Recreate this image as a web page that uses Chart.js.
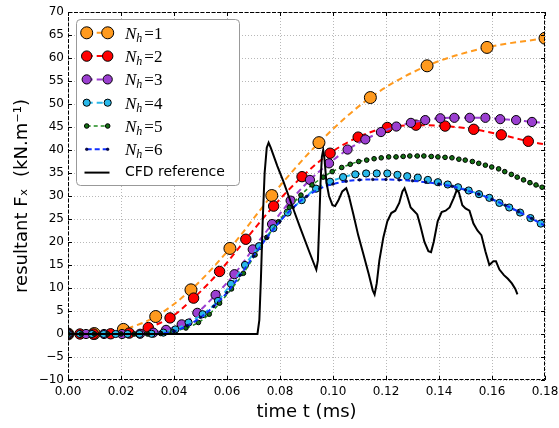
<!DOCTYPE html>
<html><head><meta charset="utf-8">
<script src="https://cdn.jsdelivr.net/npm/chart.js@4.4.1/dist/chart.umd.min.js"></script>
<style>html,body{margin:0;padding:0;background:#fff;}#wrap{width:559px;height:428px;position:relative;}</style>
</head><body><div id="wrap"><canvas id="c" width="559" height="428"></canvas></div>
<script>
// ---- tick labels ----
const xTicks = [0, 0.02, 0.04, 0.06, 0.08, 0.10, 0.12, 0.14, 0.16, 0.18];
const yTicks = [-10, -5, 0, 5, 10, 15, 20, 25, 30, 35, 40, 45, 50, 55, 60, 65, 70];
const xTitle = 'time t (ms)';
const yTitle = 'resultant Fₓ  (kN.m⁻¹)';
const seriesNames = ['N_h=1', 'N_h=2', 'N_h=3', 'N_h=4', 'N_h=5', 'N_h=6', 'CFD reference'];

// ---- N_h = 1 ----
const t1 = [0, 0.0099, 0.0209, 0.0331, 0.0464, 0.0611, 0.0769, 0.0947, 0.1141, 0.1355, 0.1581, 0.18];
const f1 = [0, 0.1, 1.0, 3.8, 9.6, 18.6, 30.1, 41.6, 51.4, 58.3, 62.3, 64.3];
// ---- N_h = 2 ----
const t2 = [0, 0.0045, 0.0096, 0.0161, 0.0231, 0.0303, 0.0385, 0.0474, 0.0572, 0.0671, 0.0776, 0.0883, 0.0989, 0.1095, 0.1205, 0.1313, 0.1423, 0.1531, 0.1635, 0.1737, 0.18];
const f2 = [0, 0, 0, 0.05, 0.2, 1.4, 3.5, 7.8, 13.6, 20.6, 27.8, 34.2, 39.3, 42.8, 44.9, 45.4, 45.2, 44.5, 43.3, 41.9, 41.2];
// ---- N_h = 3 ----
const t3 = [0, 0.0068, 0.0136, 0.0204, 0.0272, 0.0322, 0.0370, 0.0429, 0.0488, 0.0557, 0.0628, 0.0697, 0.0770, 0.0840, 0.0913, 0.0985, 0.1055, 0.1122, 0.1181, 0.1239, 0.1294, 0.1348, 0.1405, 0.1458, 0.1516, 0.1575, 0.1631, 0.1691, 0.1751, 0.18];
const f3 = [0, 0, 0, 0, 0.05, 0.3, 0.9, 2.1, 4.6, 8.5, 13.0, 18.4, 23.9, 29.0, 33.5, 37.1, 40.1, 42.3, 43.9, 45.1, 45.9, 46.5, 46.9, 47.0, 47.0, 47.0, 46.7, 46.5, 46.1, 45.9];
// ---- N_h = 4 ----
const t4 = [0, 0.0045, 0.009, 0.0135, 0.018, 0.0225, 0.027, 0.0315, 0.036, 0.0405, 0.0455, 0.0508, 0.0566, 0.0615, 0.0668, 0.0721, 0.0775, 0.0829, 0.0882, 0.0936, 0.0989, 0.1038, 0.1084, 0.1125, 0.1165, 0.1205, 0.1243, 0.128, 0.132, 0.1358, 0.1396, 0.1433, 0.1472, 0.1512, 0.1551, 0.159, 0.1628, 0.1665, 0.1706, 0.1745, 0.1784, 0.18];
const f4 = [0, 0, 0, 0, 0, 0, 0, 0.05, 0.3, 1.0, 2.5, 4.3, 7.2, 10.9, 15.0, 19.1, 23.0, 26.4, 29.1, 31.6, 33.1, 34.1, 34.7, 34.9, 34.9, 34.9, 34.6, 34.3, 34.0, 33.5, 33.0, 32.5, 31.9, 31.2, 30.4, 29.6, 28.5, 27.5, 26.4, 25.2, 24.0, 23.5];
// ---- N_h = 5 ----
const t5 = [0, 0.005, 0.010, 0.015, 0.020, 0.025, 0.030, 0.035, 0.0395, 0.0445, 0.0492, 0.0533, 0.0572, 0.0617, 0.0662, 0.0706, 0.0750, 0.0794, 0.0835, 0.0879, 0.0921, 0.0963, 0.0997, 0.1033, 0.1065, 0.1097, 0.1127, 0.1155, 0.1182, 0.1210, 0.1238, 0.1265, 0.1290, 0.1318, 0.1343, 0.1371, 0.1396, 0.1423, 0.1449, 0.1475, 0.1499, 0.1526, 0.1550, 0.1575, 0.1599, 0.1625, 0.1648, 0.1673, 0.1695, 0.1719, 0.1743, 0.1766, 0.1789, 0.18];
const f5 = [0, 0, 0, 0, 0, 0, 0, 0.1, 0.5, 1.3, 2.5, 4.3, 6.7, 9.8, 13.2, 17.2, 21.0, 24.4, 27.5, 30.2, 32.4, 34.1, 35.3, 36.2, 36.9, 37.5, 37.8, 38.1, 38.3, 38.5, 38.5, 38.6, 38.7, 38.7, 38.7, 38.6, 38.5, 38.4, 38.3, 38.0, 37.8, 37.5, 37.1, 36.7, 36.3, 35.9, 35.3, 34.7, 34.1, 33.5, 32.9, 32.4, 31.9, 31.7];
// ---- N_h = 6 ----
const t6 = [0, 0.005, 0.010, 0.015, 0.020, 0.025, 0.030, 0.035, 0.040, 0.045, 0.050, 0.055, 0.060, 0.065, 0.070, 0.075, 0.080, 0.085, 0.090, 0.095, 0.100, 0.105, 0.110, 0.115, 0.120, 0.125, 0.130, 0.135, 0.140, 0.145, 0.150, 0.155, 0.160, 0.165, 0.170, 0.175, 0.180];
const f6 = [0, 0, 0, 0, 0, 0, 0, 0.1, 0.6, 1.8, 3.6, 6.0, 9.0, 12.8, 16.9, 20.9, 24.5, 27.5, 29.9, 31.6, 32.6, 33.2, 33.5, 33.6, 33.6, 33.5, 33.3, 33.0, 32.6, 32.1, 31.3, 30.4, 29.3, 28.0, 26.6, 25.1, 23.5];
// ---- CFD reference ----
const tCFD = [0, 0.0715, 0.0722, 0.0728, 0.0735, 0.0742, 0.0750, 0.0757, 0.0765, 0.0790, 0.0812, 0.0840, 0.0875, 0.0913, 0.0930, 0.0937, 0.0943, 0.0948, 0.0953, 0.0958, 0.0963, 0.0968, 0.0975, 0.0985, 0.0998, 0.1008, 0.1020, 0.1035, 0.1050, 0.1060, 0.1077, 0.1095, 0.1114, 0.1135, 0.1150, 0.1157, 0.1165, 0.1175, 0.1190, 0.1205, 0.1220, 0.1235, 0.1250, 0.1262, 0.1270, 0.1280, 0.1293, 0.1305, 0.1318, 0.1330, 0.1345, 0.1360, 0.1370, 0.1380, 0.1395, 0.1410, 0.1425, 0.1440, 0.1455, 0.1467, 0.1475, 0.1488, 0.1500, 0.1515, 0.1530, 0.1545, 0.1560, 0.1575, 0.1590, 0.1605, 0.1615, 0.1628, 0.1645, 0.1660, 0.1675, 0.1688, 0.1696];
const fCFD = [0, 0, 3, 12, 25, 35, 40.5, 41.6, 40.5, 36.5, 33.3, 28.8, 23.3, 17.5, 15.0, 14.0, 16, 24, 33, 38.5, 40, 38, 33, 30, 28, 27.8, 29, 31, 31.7, 30, 26, 21.5, 17.5, 13, 9.5, 8.6, 11, 16, 21, 24.5, 26.3, 26.8, 28.5, 31, 31.7, 30, 27.5, 26.8, 26, 23.5, 20, 18, 17.8, 20, 24.5, 26.5, 26.8, 27.5, 29.5, 31.3, 30.8, 28, 27.3, 26.8, 24, 22.5, 21.5, 18, 15, 15.8, 15.8, 14, 12.8, 12, 11, 9.8, 8.6];

const pts = (t, f) => t.map((x, i) => ({x: x, y: f[i]}));

function series(label, t, f, color, mColor, r, dash, bw, order, endMarker) {
  const n = t.length;
  return {
    label: label, data: pts(t, f), borderColor: color, borderWidth: bw, borderDash: dash,
    backgroundColor: mColor,
    pointRadius: (c) => (!endMarker && c.dataIndex === n - 1) ? 0 : r,
    pointBackgroundColor: mColor, pointBorderColor: '#000', pointBorderWidth: r > 2 ? 1 : 0.6,
    cubicInterpolationMode: 'monotone', fill: false, clip: 0, order: order
  };
}

const styles = [
  {color: '#ff9a1e', m: '#ff9a1e', r: 6, dash: [6, 4], bw: 2},
  {color: '#ff0000', m: '#ff0000', r: 5.2, dash: [6, 4], bw: 2},
  {color: '#9b3fd0', m: '#9b3fd0', r: 4.6, dash: [6, 4], bw: 2},
  {color: '#28b8ea', m: '#28b8ea', r: 3.6, dash: [6, 4], bw: 2},
  {color: '#1f8a1f', m: '#137013', r: 2.3, dash: [4, 3], bw: 1.5},
  {color: '#1030ff', m: '#000070', r: 1.3, dash: [5, 3], bw: 2}
];

const datasets = [
  series(seriesNames[0], t1, f1, styles[0].color, styles[0].m, styles[0].r, styles[0].dash, styles[0].bw, 6, true),
  series(seriesNames[1], t2, f2, styles[1].color, styles[1].m, styles[1].r, styles[1].dash, styles[1].bw, 5, false),
  series(seriesNames[2], t3, f3, styles[2].color, styles[2].m, styles[2].r, styles[2].dash, styles[2].bw, 4, false),
  series(seriesNames[3], t4, f4, styles[3].color, styles[3].m, styles[3].r, styles[3].dash, styles[3].bw, 3, false),
  series(seriesNames[4], t5, f5, styles[4].color, styles[4].m, styles[4].r, styles[4].dash, styles[4].bw, 2, false),
  series(seriesNames[5], t6, f6, styles[5].color, styles[5].m, styles[5].r, styles[5].dash, styles[5].bw, 1, true),
  {label: seriesNames[6], data: pts(tCFD, fCFD), borderColor: '#000', borderWidth: 2, pointRadius: 0, tension: 0, fill: false, clip: 0, order: 0}
];

function seg(ctx, x1, y1, x2, y2) { ctx.beginPath(); ctx.moveTo(x1, y1); ctx.lineTo(x2, y2); ctx.stroke(); }

const mplDecor = {
  id: 'mplDecor',
  afterDatasetsDraw(chart) {
    const ctx = chart.ctx, a = chart.chartArea, xs = chart.scales.x, ys = chart.scales.y;
    ctx.save();
    ctx.strokeStyle = '#000'; ctx.lineWidth = 1; ctx.setLineDash([]);
    xTicks.forEach(v => { const p = Math.round(xs.getPixelForValue(v)) + 0.5; seg(ctx, p, a.bottom, p, a.bottom - 4); seg(ctx, p, a.top, p, a.top + 4); });
    yTicks.forEach(v => { const p = Math.round(ys.getPixelForValue(v)) + 0.5; seg(ctx, a.left, p, a.left + 4, p); seg(ctx, a.right, p, a.right - 4, p); });
    ctx.setLineDash([4, 1.5]);
    ctx.strokeRect(a.left + 0.5, a.top + 0.5, a.right - a.left - 1, a.bottom - a.top - 1);
    ctx.setLineDash([]);

    // legend
    const bx = a.left + 8.5, by = a.top + 7.5, bw = 163, bh = 166, rr = 4;
    ctx.beginPath();
    ctx.moveTo(bx + rr, by); ctx.lineTo(bx + bw - rr, by); ctx.quadraticCurveTo(bx + bw, by, bx + bw, by + rr);
    ctx.lineTo(bx + bw, by + bh - rr); ctx.quadraticCurveTo(bx + bw, by + bh, bx + bw - rr, by + bh);
    ctx.lineTo(bx + rr, by + bh); ctx.quadraticCurveTo(bx, by + bh, bx, by + bh - rr);
    ctx.lineTo(bx, by + rr); ctx.quadraticCurveTo(bx, by, bx + rr, by); ctx.closePath();
    ctx.fillStyle = '#fff'; ctx.fill(); ctx.strokeStyle = '#999'; ctx.lineWidth = 1; ctx.stroke();

    const m1 = bx + 10.2, m2 = bx + 31.2, tx = bx + 48.5;
    seriesNames.forEach((name, i) => {
      const y = by + 13.3 + i * 23.3;
      ctx.save();
      if (i < 6) {
        const s = styles[i];
        ctx.strokeStyle = s.color; ctx.lineWidth = s.bw; ctx.setLineDash(s.dash);
        seg(ctx, m1, y, m2, y);
        ctx.setLineDash([]);
        [m1, m2].forEach(mx => {
          ctx.beginPath(); ctx.arc(mx, y, s.r, 0, Math.PI * 2);
          ctx.fillStyle = s.m; ctx.fill();
          ctx.lineWidth = s.r > 2 ? 1 : 0.6; ctx.strokeStyle = '#000'; ctx.stroke();
        });
        const k = name.split('=')[1];
        ctx.fillStyle = '#000'; ctx.textBaseline = 'alphabetic'; ctx.textAlign = 'left';
        ctx.font = 'italic 17px "Liberation Serif"';
        ctx.fillText('N', tx, y + 6);
        let x = tx + ctx.measureText('N').width;
        ctx.font = 'italic 12px "Liberation Serif"';
        ctx.fillText('h', x, y + 9);
        x += ctx.measureText('h').width + 2;
        ctx.font = '17px "Liberation Serif"';
        ctx.fillText('=' + k, x, y + 6);
      } else {
        ctx.strokeStyle = '#000'; ctx.lineWidth = 2;
        seg(ctx, bx + 8, y, bx + 33, y);
        ctx.fillStyle = '#000'; ctx.textBaseline = 'middle'; ctx.textAlign = 'left';
        ctx.font = '14px "DejaVu Sans"';
        ctx.fillText(name, tx, y);
      }
      ctx.restore();
    });
    ctx.restore();
  }
};

Chart.defaults.font.family = '"DejaVu Sans", sans-serif';
Chart.defaults.color = '#000';

new Chart(document.getElementById('c'), {
  type: 'line',
  data: {datasets: datasets},
  options: {
    responsive: false, animation: false, events: [],
    layout: {padding: {left: 0, top: 12, right: 14, bottom: 0}},
    plugins: {legend: {display: false}, tooltip: {enabled: false}},
    scales: {
      x: {
        type: 'linear', min: 0, max: 0.18,
        afterBuildTicks: s => { s.ticks = xTicks.map(v => ({value: v})); },
        afterFit: s => { s.height = 48; s.paddingLeft = 0; s.paddingRight = 0; },
        grid: {color: '#b8b8b8', lineWidth: 1, drawTicks: false},
        border: {display: false, dash: [1, 2]},
        ticks: {padding: 5, color: '#000', font: {size: 12}, maxRotation: 0, autoSkip: false, callback: v => Number(v).toFixed(2)},
        title: {display: true, text: xTitle, color: '#000', font: {size: 18}, padding: {top: 0, bottom: 5}}
      },
      y: {
        type: 'linear', min: -10, max: 70,
        afterBuildTicks: s => { s.ticks = yTicks.map(v => ({value: v})); },
        afterFit: s => { s.width = 68; s.paddingTop = 0; s.paddingBottom = 0; },
        grid: {color: '#b8b8b8', lineWidth: 1, drawTicks: false},
        border: {display: false, dash: [1, 2]},
        ticks: {padding: 4, color: '#000', font: {size: 12}, autoSkip: false, callback: v => (v < 0 ? '\u2212' + Math.abs(v) : String(v))},
        title: {display: true, text: yTitle, color: '#000', font: {size: 18}, padding: {top: 12, bottom: 0}}
      }
    }
  },
  plugins: [mplDecor]
});
</script>
</body></html>
